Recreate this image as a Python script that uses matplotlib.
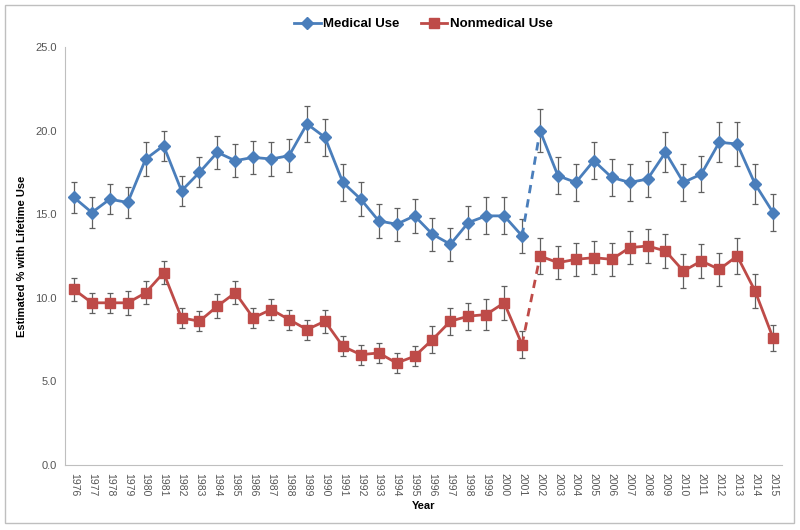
import numpy as np
import matplotlib.pyplot as plt
from matplotlib.patches import Rectangle

# Data
years = list(range(1976, 2016))

medical = [16.0, 15.1, 15.9, 15.7, 18.3, 19.1, 16.4, 17.5, 18.7, 18.2,
           18.4, 18.3, 18.5, 20.4, 19.6, 16.9, 15.9, 14.6, 14.4, 14.9,
           13.8, 13.2, 14.5, 14.9, 14.9, 13.7, 20.0, 17.3, 16.9, 18.2,
           17.2, 16.9, 17.1, 18.7, 16.9, 17.4, 19.3, 19.2, 16.8, 15.1]
medical_err = [0.9, 0.9, 0.9, 0.9, 1.0, 0.9, 0.9, 0.9, 1.0, 1.0,
               1.0, 1.0, 1.0, 1.1, 1.1, 1.1, 1.0, 1.0, 1.0, 1.0,
               1.0, 1.0, 1.0, 1.1, 1.1, 1.0, 1.3, 1.1, 1.1, 1.1,
               1.1, 1.1, 1.1, 1.2, 1.1, 1.1, 1.2, 1.3, 1.2, 1.1]

nonmedical = [10.5, 9.7, 9.7, 9.7, 10.3, 11.5, 8.8, 8.6, 9.5, 10.3,
              8.8, 9.3, 8.7, 8.1, 8.6, 7.1, 6.6, 6.7, 6.1, 6.5,
              7.5, 8.6, 8.9, 9.0, 9.7, 7.2, 12.5, 12.1, 12.3, 12.4,
              12.3, 13.0, 13.1, 12.8, 11.6, 12.2, 11.7, 12.5, 10.4, 7.6]
nonmedical_err = [0.7, 0.6, 0.6, 0.7, 0.7, 0.7, 0.6, 0.6, 0.7, 0.7,
                  0.6, 0.6, 0.6, 0.6, 0.7, 0.6, 0.6, 0.6, 0.6, 0.6,
                  0.8, 0.8, 0.8, 0.9, 1.0, 0.8, 1.1, 1.0, 1.0, 1.0,
                  1.0, 1.0, 1.0, 1.0, 1.0, 1.0, 1.0, 1.1, 1.0, 0.8]

break_year = 2001  # dashed segment between this year and the next

plt.rcParams['font.family'] = ['Liberation Sans', 'DejaVu Sans']

blue = "#4A7EBB"
red = "#BE4B48"
err_color = "#606060"
axis_color = "#BFBFBF"
text_color = "#555555"

fig = plt.figure(figsize=(8, 5.3), dpi=100)
ax = fig.add_axes([65 / 800, 65 / 530, 717 / 800, 418 / 530])

x = np.arange(len(years))
split = years.index(break_year) + 1


def draw_series(values, errors, color, marker, msize, label):
    values = np.array(values)
    errors = np.array(errors)
    ax.errorbar(x, values, yerr=errors, fmt="none", ecolor=err_color,
                elinewidth=0.9, capsize=2.5, capthick=0.9, zorder=2)
    # solid parts on either side of the break
    ax.plot(x[:split], values[:split], color=color, lw=2.0, zorder=3)
    ax.plot(x[split:], values[split:], color=color, lw=2.0, zorder=3)
    ax.plot(x[split - 1:split + 1], values[split - 1:split + 1], color=color,
            lw=2.0, ls=(0, (3, 2.2)), zorder=3)
    ax.plot(x, values, ls="none", marker=marker, ms=msize, color=color,
            zorder=4)
    # legend proxy
    ax.plot([], [], color=color, lw=2.0, marker=marker, ms=msize, label=label)


draw_series(medical, medical_err, blue, "D", 6.5, "Medical Use")
draw_series(nonmedical, nonmedical_err, red, "s", 7, "Nonmedical Use")

ax.set_xlim(-0.5, len(years) - 0.5)
ax.set_ylim(0, 25)
ax.set_yticks(np.arange(0, 25.1, 5))
ax.set_yticklabels([f"{v:.1f}" for v in np.arange(0, 25.1, 5)],
                   fontsize=8, color=text_color)
ax.set_xticks(x)
ax.set_xticklabels([str(y) for y in years], rotation=270, fontsize=7.5,
                   color=text_color)
ax.tick_params(axis="both", length=0, pad=6)

for side in ["top", "right"]:
    ax.spines[side].set_visible(False)
ax.spines["left"].set_color(axis_color)
ax.spines["bottom"].set_color(axis_color)

ax.set_xlabel("Year", fontsize=8, fontweight="bold", labelpad=3)
ax.set_ylabel("Estimated % with Lifetime Use", fontsize=8, fontweight="bold",
              labelpad=6)

ax.legend(loc="upper center", bbox_to_anchor=(0.5, 1.098), ncol=2,
          frameon=False, handlelength=2.0, handletextpad=0.2,
          columnspacing=1.6,
          prop={"family": ["Liberation Sans Narrow", "Liberation Sans"],
                "weight": "bold", "size": 9.5})

# chart area border
fig.patches.append(Rectangle((5 / 800, 7 / 530), 789 / 800, 518 / 530,
                             transform=fig.transFigure, fill=False,
                             edgecolor="#BFBFBF", lw=1.0))

fig.savefig("out.png", dpi=100)
